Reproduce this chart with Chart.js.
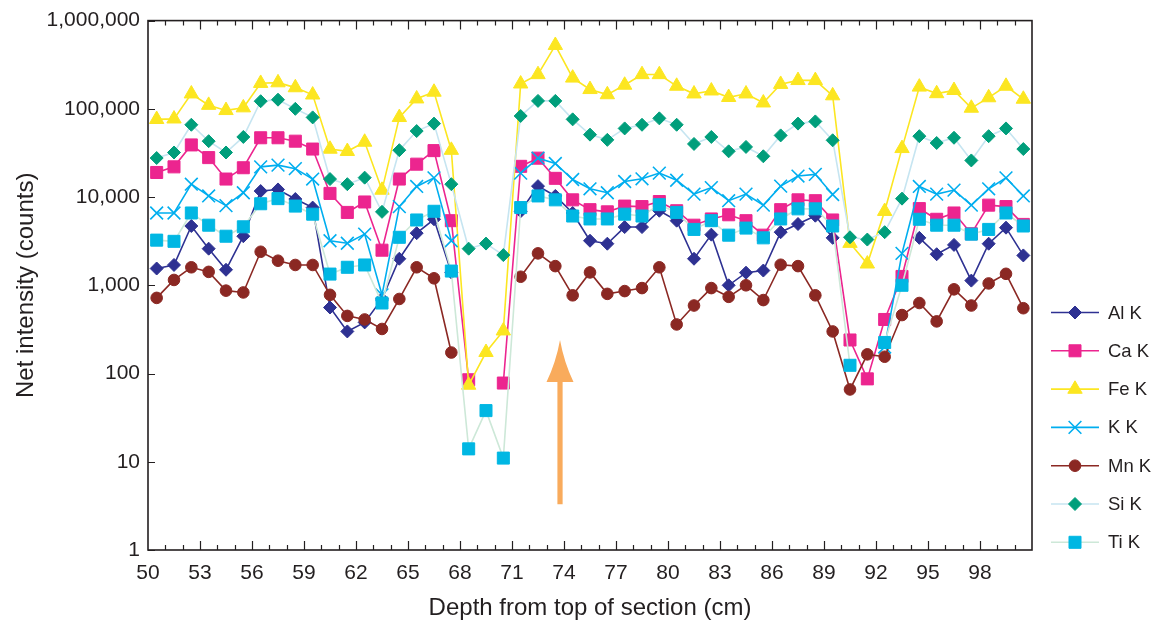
<!DOCTYPE html>
<html>
<head>
<meta charset="utf-8">
<script src="https://cdn.jsdelivr.net/npm/chart.js@4.4.1/dist/chart.umd.min.js"></script>
<style>
  html, body { margin: 0; padding: 0; background: #fff; }
  #wrap { width: 1158px; height: 626px; }
</style>
</head>
<body>
<div id="wrap"><canvas id="chart" width="1158" height="626"></canvas></div>
<script>
// depth of each measurement (cm)
var depths = [50.5, 51.5, 52.5, 53.5, 54.5, 55.5, 56.5, 57.5, 58.5, 59.5,
  60.5, 61.5, 62.5, 63.5, 64.5, 65.5, 66.5, 67.5, 68.5, 69.5,
  70.5, 71.5, 72.5, 73.5, 74.5, 75.5, 76.5, 77.5, 78.5, 79.5,
  80.5, 81.5, 82.5, 83.5, 84.5, 85.5, 86.5, 87.5, 88.5, 89.5,
  90.5, 91.5, 92.5, 93.5, 94.5, 95.5, 96.5, 97.5, 98.5, 99.5, 100.5];

var alK = [1550, 1700, 4700, 2600, 1500, 3600, 11700, 12200, 9500, 7600,
  560, 300, 380, 700, 2000, 3900, 5600, 1400, null, null,
  null, 6900, 13300, 10300, 6600, 3200, 2960, 4570, 4570, 7000,
  5400, 2000, 3750, 1000, 1390, 1470, 4000, 4950, 6150, 3450,
  null, null, null, null, 3450, 2250, 2870, 1130, 2960, 4500, 2180];
var caK = [19000, 22000, 39000, 28000, 16000, 21500, 47000, 47000, 43000, 35000,
  11000, 6700, 8800, 2500, 16000, 23600, 33600, 5400, 85, null,
  78, 22300, 27600, 16300, 9300, 7200, 6800, 7900, 7800, 8900,
  7000, 4800, 5650, 6300, 5400, 3700, 7200, 9300, 9100, 5500,
  240, 87, 410, 1260, 7400, 5600, 6600, 3840, 8100, 7800, 4900];
var feK = [76000, 77000, 148000, 110000, 96000, 103000, 195000, 198000, 174000, 144000,
  35000, 33000, 42000, 12000, 80000, 130000, 155000, 34000, 74, 174,
  305, 192000, 245000, 525000, 224000, 166000, 145000, 186000, 245000, 245000,
  181000, 148000, 160000, 135000, 148000, 117000, 190000, 210000, 210000, 141000,
  3000, 1750, 6900, 35600, 177000, 149000, 162000, 102000, 134000, 181000, 129000];
var kK = [6600, 6600, 14000, 10300, 8000, 11200, 22000, 23000, 21000, 16000,
  3200, 3000, 3800, 780, 7800, 13200, 16500, 3200, null, null,
  null, 18700, 27600, 24000, 15800, 12400, 11200, 15000, 16100, 18700,
  15500, 10800, 12800, 9100, 10800, 8100, 13300, 17300, 18100, 10700,
  null, null, 200, 2300, 13200, 10800, 12000, 8100, 12400, 16500, 10300];
var mnK = [720, 1150, 1600, 1420, 870, 830, 2400, 1900, 1700, 1700,
  780, 450, 410, 320, 700, 1600, 1200, 173, null, null,
  null, 1250, 2300, 1650, 770, 1400, 800, 860, 930, 1600,
  360, 590, 930, 740, 1000, 680, 1710, 1650, 770, 300,
  66, 165, 155, 460, 630, 390, 900, 590, 1050, 1350, 550];
var siK = [27700, 32000, 66000, 43000, 32000, 48000, 122000, 127000, 100000, 80000,
  16000, 14000, 16600, 6800, 34000, 56000, 68000, 14000, 2600, 2970,
  2200, 83000, 123000, 123000, 76000, 51000, 44500, 60000, 66000, 78000,
  66000, 40000, 48000, 33000, 37000, 29000, 50000, 68000, 72000, 44000,
  3500, 3300, 4000, 9600, 49000, 41000, 47000, 26000, 49000, 60000, 35000];
var tiK = [3250, 3150, 6600, 4800, 3600, 4600, 8400, 9600, 7900, 6400,
  1340, 1600, 1700, 630, 3500, 5500, 6900, 1450, 14, 38,
  11, 7600, 10300, 9300, 6100, 5650, 5650, 6400, 6100, 8200,
  6700, 4300, 5400, 3700, 4450, 3450, 5650, 7350, 7350, 4700,
  124, null, 225, 1000, 5600, 4800, 4800, 3800, 4300, 6600, 4700];

var xLabels = [50, 53, 56, 59, 62, 65, 68, 71, 74, 77, 80, 83, 86, 89, 92, 95, 98];
var yLabels = [1, 10, 100, 1000, 10000, 100000, 1000000];
// orange arrow: depth, tail, head base, tip (counts)
var arrowMark = [73.77, 3.3, 80, 240];

var FONT = '"Liberation Sans", Arial, Helvetica, sans-serif';
var TEXT = "#231f20";

function pts(arr) {
  return depths.map(function (d, i) { return { x: d, y: arr[i] }; });
}

function series(label, arr, line, marker, style, radius, order) {
  return {
    label: label,
    data: pts(arr),
    borderColor: line,
    backgroundColor: marker,
    borderWidth: 1.6,
    pointStyle: style,
    pointRadius: radius,
    pointHoverRadius: radius,
    pointBackgroundColor: marker,
    pointBorderColor: marker,
    pointBorderWidth: style === "crossRot" ? 1.6 : 1,
    tension: 0,
    spanGaps: false,
    order: order
  };
}

var datasets = [
  series("Al K", alK, "#2e3192", "#2e3192", "rectRot", 6.5, 6),
  series("Ca K", caK, "#ec258f", "#ec258f", "rect", 8.5, 5),
  series("Fe K", feK, "#fce621", "#fce621", "triangle", 8.3, 4),
  series("K K", kK, "#00aeef", "#00aeef", "crossRot", 9, 3),
  series("Mn K", mnK, "#8b2823", "#8b2823", "circle", 5.8, 2),
  series("Si K", siK, "#c6e5f1", "#009e7b", "rectRot", 6.5, 1),
  series("Ti K", tiK, "#cde8d8", "#00b7e3", "rect", 8.5, 0)
];

var decorPlugin = {
  id: "decor",
  afterDraw: function (chart) {
    var ctx = chart.ctx, a = chart.chartArea;
    var xs = chart.scales.x, ys = chart.scales.y;
    ctx.save();

    // arrow
    var ax = xs.getPixelForValue(arrowMark[0]);
    var yTail = ys.getPixelForValue(arrowMark[1]);
    var yBase = ys.getPixelForValue(arrowMark[2]);
    var yTip = ys.getPixelForValue(arrowMark[3]);
    ctx.fillStyle = "#f9ab5c";
    ctx.fillRect(ax - 2.6, yBase - 2, 5.2, yTail - yBase + 2);
    ctx.beginPath();
    ctx.moveTo(ax, yTip);
    ctx.quadraticCurveTo(ax + 4, yBase - 20, ax + 13.5, yBase);
    ctx.lineTo(ax - 13.5, yBase);
    ctx.quadraticCurveTo(ax - 4, yBase - 20, ax, yTip);
    ctx.fill();

    // frame
    ctx.strokeStyle = "#231f20";
    ctx.lineWidth = 1.6;
    ctx.strokeRect(a.left, a.top, a.right - a.left, a.bottom - a.top);

    // x tick marks, top and bottom, pointing inward
    ctx.lineWidth = 1.2;
    ctx.beginPath();
    for (var v = 51; v < 101; v++) {
      var px = Math.round(xs.getPixelForValue(v)) + 0.5;
      var len = (v - 50) % 3 === 0 ? 9 : 5;
      ctx.moveTo(px, a.bottom);
      ctx.lineTo(px, a.bottom - len);
      ctx.moveTo(px, a.top);
      ctx.lineTo(px, a.top + len);
    }
    // y tick marks on left
    yLabels.forEach(function (t) {
      var py = Math.round(ys.getPixelForValue(t)) + 0.5;
      ctx.moveTo(a.left, py);
      ctx.lineTo(a.left + 7, py);
    });
    ctx.stroke();

    // axis titles
    ctx.fillStyle = TEXT;
    ctx.font = "24px " + FONT;
    ctx.textAlign = "center";
    ctx.textBaseline = "middle";
    ctx.fillText("Depth from top of section (cm)", (a.left + a.right) / 2, 608);
    ctx.save();
    ctx.translate(26, (a.top + a.bottom) / 2);
    ctx.rotate(-Math.PI / 2);
    ctx.fillText("Net intensity (counts)", 0, 0);
    ctx.restore();

    // legend
    var ly = 312.5;
    ctx.font = "18.5px " + FONT;
    ctx.textAlign = "left";
    chart.data.datasets.forEach(function (ds, i) {
      var y = ly + i * 38.3;
      ctx.strokeStyle = ds.borderColor;
      ctx.lineWidth = 1.6;
      ctx.beginPath();
      ctx.moveTo(1051, y);
      ctx.lineTo(1099, y);
      ctx.stroke();
      ctx.fillStyle = ds.pointBackgroundColor;
      ctx.strokeStyle = ds.pointBorderColor;
      ctx.lineWidth = ds.pointBorderWidth;
      Chart.helpers.drawPoint(ctx, {
        pointStyle: ds.pointStyle, radius: ds.pointRadius, rotation: 0,
        borderWidth: ds.pointBorderWidth
      }, 1075, y);
      ctx.fillStyle = TEXT;
      ctx.fillText(ds.label, 1108, y + 1);
    });
    ctx.restore();
  }
};

new Chart(document.getElementById("chart"), {
  type: "line",
  data: { datasets: datasets },
  options: {
    responsive: false,
    devicePixelRatio: 1,
    animation: false,
    layout: { padding: { top: 12, right: 126, left: 0, bottom: 0 } },
    plugins: { legend: { display: false }, tooltip: { enabled: false } },
    scales: {
      x: {
        type: "linear",
        min: 50,
        max: 101,
        afterBuildTicks: function (s) {
          s.ticks = xLabels.map(function (v) { return { value: v }; });
        },
        afterFit: function (s) { s.height = 76; },
        grid: { display: false, drawTicks: false },
        border: { display: false },
        ticks: {
          autoSkip: false, maxRotation: 0, padding: 11,
          color: TEXT, font: { family: FONT, size: 21 },
          callback: function (v) { return String(v); }
        }
      },
      y: {
        type: "logarithmic",
        min: 1,
        max: 1000000,
        afterBuildTicks: function (s) {
          s.ticks = yLabels.map(function (v) { return { value: v }; });
        },
        afterFit: function (s) { s.width = 148; },
        grid: { display: false, drawTicks: false },
        border: { display: false },
        ticks: {
          padding: 8, color: TEXT, font: { family: FONT, size: 21 },
          callback: function (v) { return Number(v).toLocaleString("en-US"); }
        }
      }
    }
  },
  plugins: [decorPlugin]
});
</script>
</body>
</html>
